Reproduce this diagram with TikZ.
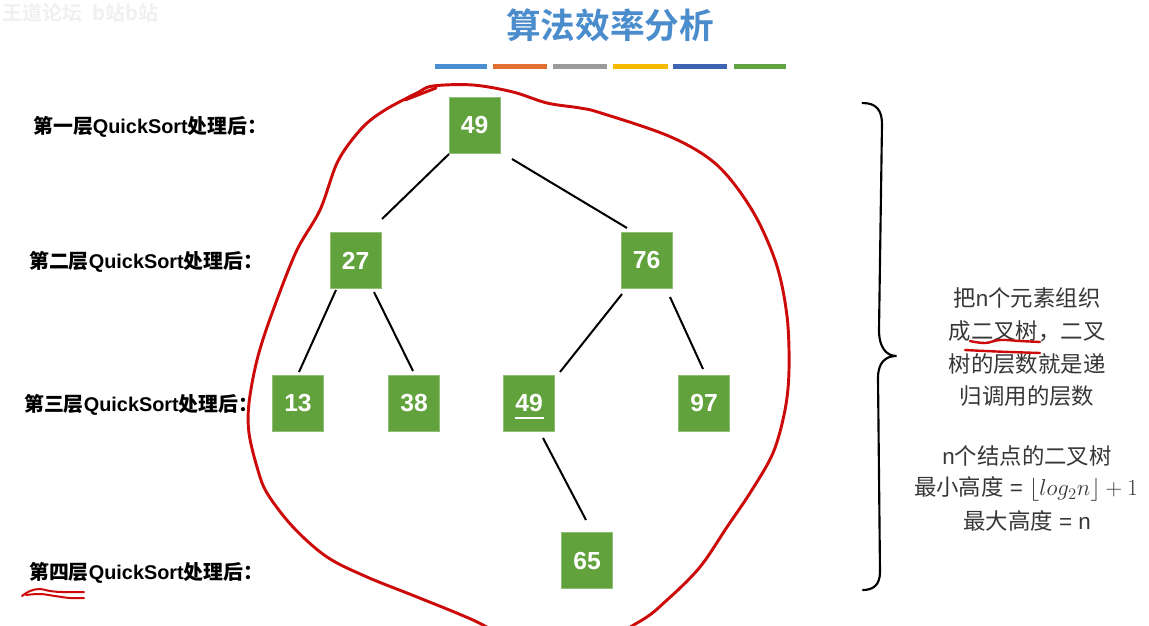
\documentclass[tikz,border=0pt]{standalone}
\usepackage{fontspec}
\setmainfont{Liberation Sans}
\newfontfamily\cjk{Noto Sans CJK SC}
\newfontfamily\cjkb{Noto Sans CJK SC Bold}
\usetikzlibrary{calc}
\definecolor{boxgreen}{RGB}{98,162,61}
\definecolor{titleblue}{RGB}{74,140,204}
\definecolor{redpen}{RGB}{205,10,10}
\definecolor{txtgray}{RGB}{55,55,55}
\definecolor{barA}{RGB}{74,143,207}
\definecolor{barB}{RGB}{226,113,49}
\definecolor{barC}{RGB}{155,155,155}
\definecolor{barD}{RGB}{246,186,0}
\definecolor{barE}{RGB}{60,100,178}
\definecolor{barF}{RGB}{98,165,64}
\tikzset{
  numbox/.style={fill=boxgreen, draw=boxgreen!70!white, line width=0.5pt, minimum width=38.25pt, minimum height=42pt, inner sep=0pt, text=white, font=\fontsize{18.5}{18.5}\selectfont\bfseries},
  edge/.style={line width=1.5pt, black},
  lvl/.style={anchor=west, inner sep=0pt, font=\fontsize{14.9}{16}\selectfont\bfseries},
  rtxt/.style={inner sep=0pt, text=txtgray, font=\fontsize{16.8}{18}\selectfont},
  pen/.style={draw=redpen, line width=2.2pt, line cap=round, line join=round},
  bar/.style={line width=3.6pt}
}
\begin{document}
\begin{tikzpicture}[x=0.75pt,y=-0.75pt]
\useasboundingbox (0,0) rectangle (1149,625);
\clip (0,0) rectangle (1149,625);
\fill[white] (0,0) rectangle (1149,625);

% faint watermark
\node[anchor=west, inner sep=0pt, text=black!6, font=\cjkb\fontsize{15}{15}\selectfont] (wm) at (2,13) {王道论坛\hspace{8pt}b站b站};

% title
\node[inner sep=0pt, text=titleblue, font=\cjkb\fontsize{26}{26}\selectfont] (title) at (610,25) {算法效率分析};
\draw[bar, barA] (435,66.5) -- (487,66.5);
\draw[bar, barB] (493,66.5) -- (547,66.5);
\draw[bar, barC] (553,66.5) -- (607,66.5);
\draw[bar, barD] (613,66.5) -- (668,66.5);
\draw[bar, barE] (673,66.5) -- (727,66.5);
\draw[bar, barF] (734,66.5) -- (786,66.5);

% level labels
\node[lvl] (L1) at (33,127) {{\cjkb 第一层}QuickSort{\cjkb 处理后：}};
\node[lvl] (L2) at (29,262) {{\cjkb 第二层}QuickSort{\cjkb 处理后：}};
\node[lvl] (L3) at (24,405) {{\cjkb 第三层}QuickSort{\cjkb 处理后：}};
\node[lvl] (L4) at (29,573) {{\cjkb 第四层}QuickSort{\cjkb 处理后：}};

% tree
\node[numbox] (a49) at (474.5,125) {49};
\node[numbox] (a27) at (355.5,260.5) {27};
\node[numbox] (a76) at (646.5,260.5) {76};
\node[numbox] (a13) at (298,403.5) {13};
\node[numbox] (a38) at (414,403.5) {38};
\node[numbox] (b49) at (529,403.5) {49};
\node[numbox] (a97) at (704,403.5) {97};
\node[numbox] (a65) at (587,560.5) {65};
\draw[white, line width=1.3pt] ($(b49)+(-14,14.5)$) -- ($(b49)+(15,14.5)$);

\draw[edge] ($(a49)+(-25.5,29)$) -- ($(a27)+(26.5,-41.5)$);
\draw[edge] ($(a49)+(37.5,34)$) -- ($(a76)+(-19.5,-32.5)$);
\draw[edge] ($(a27)+(-19.5,29.5)$) -- ($(a13)+(1,-31.5)$);
\draw[edge] ($(a27)+(18.5,31.5)$) -- ($(a38)+(-1,-32.5)$);
\draw[edge] ($(a76)+(-24.5,33.5)$) -- ($(b49)+(31,-31.5)$);
\draw[edge] ($(a76)+(23.5,36.5)$) -- ($(a97)+(-1,-34.5)$);
\draw[edge] ($(b49)+(14,34.5)$) -- ($(a65)+(-1,-40.5)$);

% brace
\draw[line width=1.6pt, line cap=round] (862.5,103) .. controls (876,103) and (882,110) .. (882,124)
  -- (879,330) .. controls (879,347) and (886,356) .. (896.5,356)
  .. controls (886,356) and (878,362) .. (878,378)
  -- (880,572) .. controls (880,585) and (873,590) .. (863,590);

% right text
\node[rtxt] (r1) at (1027,298) {{\cjk 把}n{\cjk 个元素组织}};
\node[rtxt] (r2) at (1027,331) {{\cjk 成二叉树，二叉}};
\node[rtxt] (r3) at (1027,364) {{\cjk 树的层数就是递}};
\node[rtxt] (r4) at (1027,396) {{\cjk 归调用的层数}};
\node[rtxt] (r5) at (1027,456) {n{\cjk 个结点的二叉树}};
\node[rtxt] (r6) at (1026,489) {{\cjk 最小高度} = $\lfloor log_2n\rfloor + 1$};
\node[rtxt] (r7) at (1027,521) {{\cjk 最大高度} = n};

% red annotations
\draw[pen, line width=1.8pt] plot[smooth, tension=0.7] coordinates {(970,341) (985,343) (1000,340) (1020,341) (1040,342)};
\draw[pen, line width=1.8pt] plot[smooth, tension=0.7] coordinates {(965,350) (985,351) (1010,352) (1040,353)};
\draw[pen, line width=1.5pt] plot[smooth, tension=0.7] coordinates {(22,596) (30,591) (40,589) (50,591) (62,592) (84,592)};
\draw[pen, line width=1.5pt] plot[smooth, tension=0.7] coordinates {(26,595) (40,594) (55,596) (70,598) (84,598)};

% red enclosing curve
\draw[pen] plot[smooth cycle, tension=0.55] coordinates {
 (417,93) (433,86) (473,85) (513,92) (547,103) (580,108) (601,113) (671,137) (717,165)
 (752,210) (776,263) (787,316) (789,370) (785,410) (773,453) (750,493) (727,527)
 (700,567) (667,600) (637,623) (560,660) (473,620) (417,597) (367,577) (327,557)
 (293,527) (267,493) (257,467) (249,433) (249,403) (257,360) (271,316) (296,252)
 (320,210) (338,161) (362,128) (385,110)};
\draw[pen] (405,100) -- (436,88);
\end{tikzpicture}
\end{document}
